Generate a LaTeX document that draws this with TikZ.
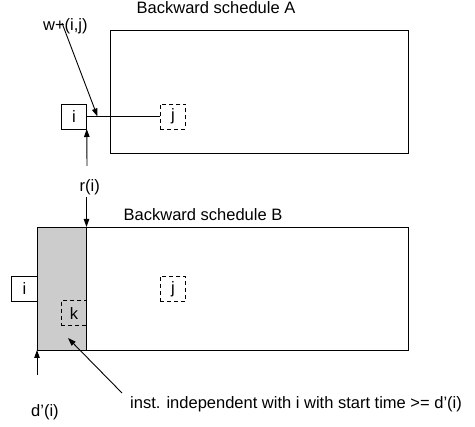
\documentclass[tikz,border=0pt]{standalone}
\usepackage{fontspec}
\setmainfont{Liberation Sans}
\usetikzlibrary{arrows.meta}
\definecolor{shade}{RGB}{204,204,204}
\begin{document}
\begin{tikzpicture}[x=1pt,y=-1pt,
  every node/.style={font=\fontsize{16.5}{19}\selectfont},
  frame/.style={draw,line width=0.9pt,inner sep=0pt,outer sep=0pt,anchor=north west},
  task/.style={draw,line width=0.9pt,inner sep=0pt,outer sep=0pt,minimum width=25.5pt,minimum height=25pt},
  dtask/.style={task,dash pattern=on 4pt off 3pt},
  lbl/.style={inner sep=0pt,anchor=base west},
  arr/.style={line width=0.9pt,-{Triangle[length=8pt,width=5.5pt]}},
  conn/.style={line width=0.9pt}]
\useasboundingbox (0,0) rectangle (475,427);
% schedule A
\node[frame,minimum width=298pt,minimum height=123pt] (A) at (110,30) {};
\node[lbl] (tA) at (136.5,13.5) {Backward schedule A};
\node[task] (iA) at (74,116.5) {i};
\node[dtask] (jA) at (173,116.5) {j};
\draw[conn] (iA.east) -- (jA.west);
\node[lbl] (w) at (43,31) {w+(i,j)};
\coordinate (ws) at (62,23);
\coordinate (wt) at (97.5,116.5);
\draw[arr] (ws) -- (wt);
% r(i)
\node[lbl] (r) at (79.5,192) {r(i)};
\coordinate (r1) at (87,166);
\draw[arr] (r1) -- (iA.south east);
% schedule B
\node[frame,minimum width=371pt,minimum height=123pt] (B) at (37,227) {};
\node[frame,fill=shade,minimum width=49.5pt,minimum height=123pt] (G) at (37,227) {};
\node[lbl] (tB) at (123.5,220.5) {Backward schedule B};
\coordinate (r2) at (86.5,197);
\draw[arr] (r2) -- (G.north east);
\node[task,fill=white] (iB) at (24.5,289) {i};
\node[dtask] (jB) at (173,289) {j};
\node[dtask] (k) at (74,313.2) {k};
% d'(i)
\coordinate (d1) at (37,375);
\draw[arr] (d1) -- (G.south west);
\node[lbl] (d) at (31,417) {d’(i)};
% note
\node[lbl] (note) at (130,409) {inst. independent with i with start time >= d’(i)};
\coordinate (n1) at (122,393);
\coordinate (n2) at (68,338);
\draw[arr] (n1) -- (n2);
\end{tikzpicture}
\end{document}
